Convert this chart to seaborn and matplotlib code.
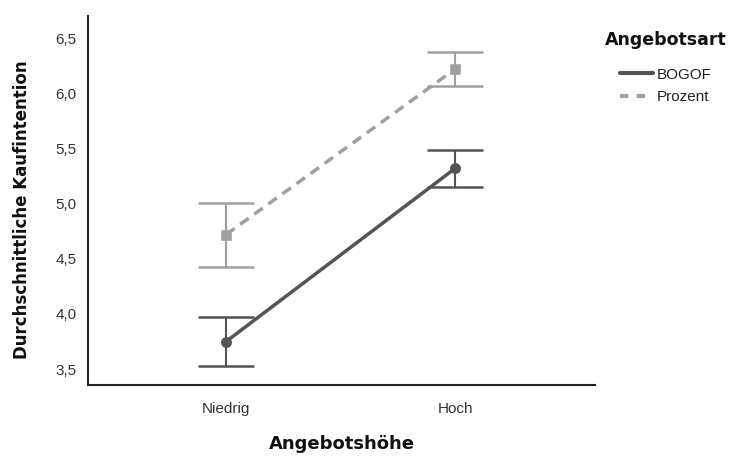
import pandas as pd
import seaborn as sns
import matplotlib.pyplot as plt
from matplotlib.ticker import FuncFormatter
from matplotlib.lines import Line2D

# Values
hoehe = ["Niedrig", "Hoch"]
bogof_mean = [3.75, 5.32]
bogof_low = [3.53, 5.15]
bogof_high = [3.97, 5.49]
prozent_mean = [4.72, 6.22]
prozent_low = [4.43, 6.07]
prozent_high = [5.01, 6.37]

df = pd.DataFrame({
    "Angebotshöhe": hoehe * 2,
    "Angebotsart": ["BOGOF"] * 2 + ["Prozent"] * 2,
    "Mittelwert": bogof_mean + prozent_mean,
    "low": bogof_low + prozent_low,
    "high": bogof_high + prozent_high,
})

sns.set_style("white")
plt.rcParams["font.family"] = ["Liberation Sans", "DejaVu Sans"]

fig = plt.figure(figsize=(7.33, 4.59), dpi=100)
ax = fig.add_axes([0.120, 0.161, 0.692, 0.804])

colors = {"BOGOF": "#545454", "Prozent": "#a0a0a0"}

sns.pointplot(data=df, x="Angebotshöhe", y="Mittelwert", hue="Angebotsart",
              order=hoehe, palette=colors, markers=["o", "s"],
              linestyles=["-", "--"], errorbar=None, ax=ax, legend=False,
              markersize=6, linewidth=2.5)

# confidence intervals
for art, g in df.groupby("Angebotsart"):
    xs = [hoehe.index(h) for h in g["Angebotshöhe"]]
    ax.errorbar(xs, g["Mittelwert"],
                yerr=[g["Mittelwert"] - g["low"], g["high"] - g["Mittelwert"]],
                fmt="none", ecolor=colors[art], elinewidth=1.5,
                capsize=20, capthick=1.8, zorder=1)

for line in ax.lines:
    if line.get_linestyle() == "--":
        line.set_dashes((3, 2))

ax.set_xlim(-0.603, 1.611)
ax.set_ylim(3.355, 6.70)
ax.set_yticks([3.5, 4.0, 4.5, 5.0, 5.5, 6.0, 6.5])
ax.yaxis.set_major_formatter(FuncFormatter(lambda v, p: f"{v:.1f}".replace(".", ",")))
ax.tick_params(axis="both", length=0, labelsize=11, colors="#333333")
ax.tick_params(axis="y", pad=8)
ax.tick_params(axis="x", pad=12)

for s in ["top", "right"]:
    ax.spines[s].set_visible(False)
for s in ["left", "bottom"]:
    ax.spines[s].set_color("#222222")
    ax.spines[s].set_linewidth(1.5)

ax.set_xlabel("Angebotshöhe", fontsize=13, fontweight="bold", labelpad=14,
              family="DejaVu Sans", color="#111111")
ax.set_ylabel("Durchschnittliche Kaufintention", fontsize=12, fontweight="bold",
              family="DejaVu Sans", color="#111111")
ax.yaxis.set_label_coords(-0.112, 0.474)

fig.text(0.825, 0.913, "Angebotsart", fontsize=12.5, fontweight="bold",
         family="DejaVu Sans", va="center", ha="left", color="#111111")
handles = [Line2D([0], [0], color=colors["BOGOF"], lw=3, ls="-"),
           Line2D([0], [0], color=colors["Prozent"], lw=3, ls=(0, (2, 2)))]
fig.legend(handles, ["BOGOF", "Prozent"], loc="upper left",
           bbox_to_anchor=(0.836, 0.869), frameon=False, borderpad=0,
           fontsize=11, handlelength=2.1, handletextpad=0.25,
           labelspacing=0.55, labelcolor="#222222")

plt.savefig("out.png", dpi=100)
